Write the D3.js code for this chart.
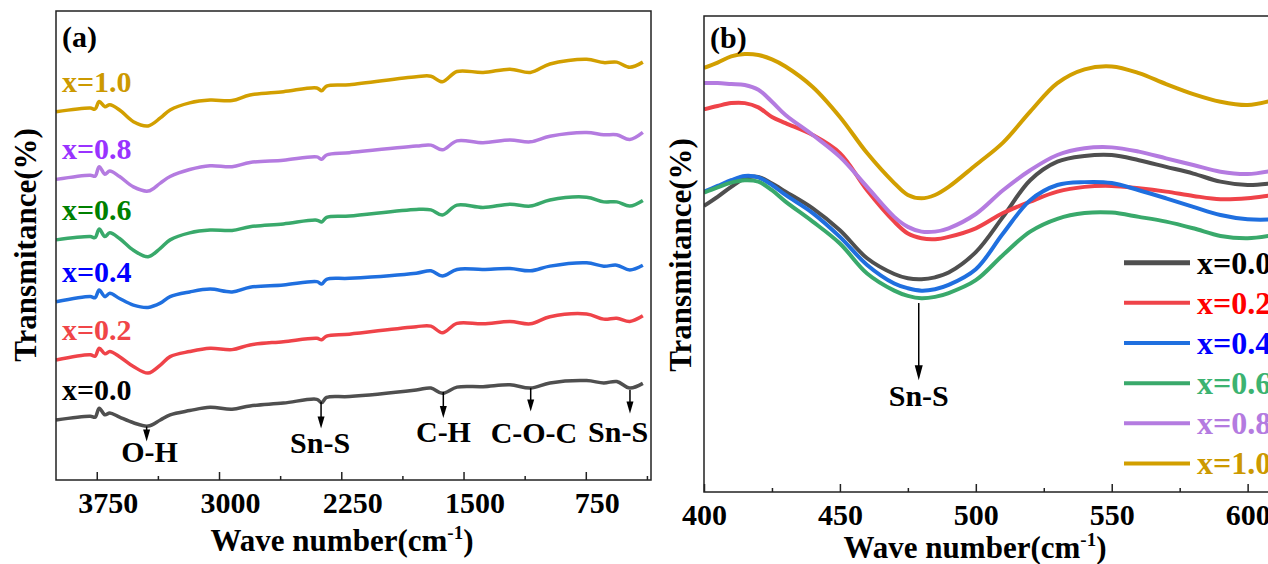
<!DOCTYPE html>
<html lang="en">
<head>
<meta charset="UTF-8" />
<script src="https://cdn.jsdelivr.net/npm/d3@7/dist/d3.min.js"></script>
<style>
	body{ margin:0; background:#fff; }
	svg text{
		font-family: "Liberation Serif", "Times New Roman", serif;
		font-weight: bold;
	}
	.domain{ display:none; }
</style>
</head>
<body>
<svg id="chart" width="1268" height="564"></svg>
<script>
// ---- data ----
var seriesNames = ["x=0.0", "x=0.2", "x=0.4", "x=0.6", "x=0.8", "x=1.0"];
var lineColors = ["#4f4f4f", "#ef4349", "#1f6fdf", "#39a96b", "#b47be0", "#d29f00"];
var labelColorsA = ["#000000", "#f04548", "#0000ff", "#008000", "#9933ff", "#cc9900"];
var labelColorsB = ["#000000", "#ff0000", "#0000ff", "#3cb371", "#b47be0", "#cc9900"];

// panel (a) full FTIR spectra, 4000-400 cm-1 (offset, arbitrary units)
var wavenumberA = [4000, 3790, 3760, 3735, 3700, 3670, 3610, 3525, 3435, 3360, 3300, 3180, 3055, 2920, 2810, 2605,
	2400, 2370, 2340, 2200, 1790, 1700, 1630, 1540, 1380, 1215, 1090, 970, 745, 640, 560, 480, 400];
var spectraA00 = [12.8, 13.6, 13.4, 15.3, 13.9, 14.3, 13.4, 12.2, 11.5, 12.8, 13.9, 14.8, 15.5, 15.1, 15.8, 16.4,
	17.2, 16.5, 17.6, 17.8, 19.2, 19.6, 18.5, 19.8, 19.9, 20.3, 19.6, 20.7, 21.2, 20.7, 21.0, 19.6, 20.6];
var spectraA02 = [25.6, 26.7, 26.4, 28.1, 26.9, 27.4, 26.3, 24.2, 22.8, 24.5, 26.3, 27.4, 28.1, 27.8, 28.8, 29.5,
	30.2, 29.9, 30.7, 31.1, 32.7, 32.8, 31.4, 33.4, 33.3, 33.8, 33.3, 34.8, 35.4, 34.3, 34.5, 33.8, 35.0];
var spectraA04 = [38.0, 39.1, 38.9, 40.5, 39.1, 39.8, 38.7, 37.3, 36.8, 37.7, 39.1, 40.1, 40.7, 40.1, 41.1, 41.6,
	42.3, 41.8, 42.8, 43.0, 44.1, 44.6, 43.5, 44.9, 44.9, 45.1, 44.6, 45.6, 46.3, 45.6, 45.8, 44.8, 45.8];
var spectraA06 = [51.2, 51.9, 51.7, 53.5, 51.9, 52.7, 51.5, 49.0, 47.6, 49.4, 51.2, 52.7, 53.3, 53.2, 54.0, 54.6,
	55.4, 55.0, 56.0, 56.3, 57.7, 57.6, 56.5, 58.6, 58.1, 58.8, 58.4, 59.7, 60.3, 59.3, 59.3, 58.4, 59.6];
var spectraA08 = [64.1, 65.0, 64.8, 66.8, 65.2, 65.9, 64.7, 62.5, 61.6, 63.3, 64.7, 66.2, 67.0, 66.8, 67.7, 68.2,
	68.9, 68.4, 69.3, 69.8, 71.2, 71.4, 70.4, 72.3, 71.9, 72.5, 72.1, 73.3, 74.1, 73.6, 73.6, 72.6, 74.1];
var spectraA10 = [78.5, 79.3, 79.1, 80.7, 79.6, 80.0, 78.9, 76.4, 75.5, 77.2, 78.9, 80.4, 81.0, 80.9, 82.1, 82.8,
	83.6, 83.0, 84.0, 84.3, 86.0, 86.1, 84.9, 87.1, 86.9, 87.6, 86.9, 88.7, 89.7, 89.0, 89.1, 88.0, 89.1];

// panel (b) zoom on 400-620 cm-1
var wavenumberB = [400, 405, 410, 415, 420, 425, 430, 440, 450, 460, 470, 475, 480, 485, 490, 500,
	510, 520, 530, 540, 550, 560, 570, 580, 590, 600, 610, 620];
var spectraB00 = [60.1, 62.0, 64.1, 65.9, 66.2, 64.8, 63.1, 59.6, 55.0, 49.1, 45.8, 44.9, 44.7, 45.1, 46.1, 50.4,
	57.8, 65.5, 69.4, 70.6, 70.8, 69.7, 68.3, 66.9, 65.2, 64.5, 64.9, 65.5];
var spectraB02 = [80.4, 81.1, 81.7, 81.7, 80.8, 78.8, 77.5, 75.0, 71.2, 63.4, 56.8, 54.3, 53.3, 53.1, 53.6, 55.4,
	58.6, 61.0, 63.1, 64.1, 64.3, 63.8, 63.1, 62.2, 61.5, 61.7, 62.4, 63.0];
var spectraB04 = [63.1, 64.3, 65.5, 66.4, 66.1, 64.5, 62.4, 58.6, 53.6, 47.7, 43.8, 42.8, 42.3, 42.6, 43.5, 46.8,
	54.3, 61.3, 64.5, 65.1, 64.9, 63.4, 61.7, 59.9, 58.2, 57.3, 57.3, 58.0];
var spectraB06 = [62.9, 64.0, 65.0, 65.5, 65.2, 63.4, 61.0, 56.8, 52.2, 45.9, 42.3, 41.2, 40.7, 41.0, 41.8, 44.5,
	49.8, 54.7, 57.4, 58.6, 58.7, 57.8, 56.8, 55.4, 53.8, 53.3, 54.0, 55.0];
var spectraB08 = [85.9, 85.9, 85.7, 85.5, 84.5, 82.0, 79.2, 75.0, 70.4, 64.1, 57.8, 55.7, 54.7, 54.7, 55.4, 58.4,
	63.4, 67.6, 70.8, 72.2, 72.4, 71.5, 70.1, 68.7, 67.3, 66.8, 67.6, 68.7];
var spectraB10 = [89.1, 90.2, 91.5, 92.0, 91.8, 90.9, 89.4, 85.1, 78.8, 71.2, 64.9, 62.4, 61.7, 62.4, 64.1, 68.7,
	73.4, 79.9, 85.9, 88.8, 89.4, 88.0, 85.7, 83.6, 82.0, 81.3, 82.4, 84.0];

var ticksA = [3750, 3000, 2250, 1500, 750];
var minorTicksA = [3375, 2625, 1875, 1125, 375];
var ticksB = [400, 450, 500, 550, 600];
var minorTicksB = [425, 475, 525, 575];

// band assignments in (a): arrow wavenumber, arrow top/bottom, label position
var bandNames = ["O-H", "Sn-S", "C-H", "C-O-C", "Sn-S"];
var bandWn = [3444, 2374, 1624, 1088, 479];
var bandArrowFrom = [11.4, 16.7, 18.8, 19.6, 19.2];
var bandArrowTo = [8.2, 11.0, 13.2, 14.6, 14.2];
var bandTextWn = [3426, 2380, 1623, 1068, 552];
var bandTextY = [3.9, 5.7, 8.2, 7.8, 8.2];

// band in (b)
var bandB = {name: "Sn-S", wn: 479, from: 39.7, to: 23.5, textY: 18.1};

var spectraA = [spectraA00, spectraA02, spectraA04, spectraA06, spectraA08, spectraA10];
var spectraB = [spectraB00, spectraB02, spectraB04, spectraB06, spectraB08, spectraB10];

// ---- layout ----
var svg = d3.select("#chart");
var pa = {left: 56, right: 651, top: 11, bottom: 480};
var pb = {left: 704, right: 1302, top: 16, bottom: 492};

var xA = d3.scaleLinear().domain([4000, 350]).range([pa.left, pa.right]);
var yA = d3.scaleLinear().domain([0, 100]).range([pa.bottom, pa.top]);
var xB = d3.scaleLinear().domain([400, 620]).range([pb.left, pb.right]);
var yB = d3.scaleLinear().domain([0, 100]).range([pb.bottom, pb.top]);

svg.append("defs").append("clipPath").attr("id", "clipB")
	.append("rect")
	.attr("x", pb.left).attr("y", pb.top)
	.attr("width", pb.right - pb.left).attr("height", pb.bottom - pb.top);

function drawAxis(g, scale, major, minor, bottom, labelShift, padding) {
	var ax = g.append("g").attr("transform", "translate(0," + bottom + ")")
		.call(d3.axisBottom(scale).tickValues(major).tickSizeInner(-8).tickSizeOuter(0).tickPadding(padding).tickFormat(d3.format("d")));
	ax.selectAll(".tick line").attr("stroke", "#222").attr("stroke-width", 1.5);
	ax.selectAll(".tick text").attr("font-size", 30).attr("fill", "#000").attr("dx", labelShift);
	var mi = g.append("g").attr("transform", "translate(0," + bottom + ")")
		.call(d3.axisBottom(scale).tickValues(minor).tickSizeInner(-4).tickSizeOuter(0).tickFormat(""));
	mi.selectAll(".tick line").attr("stroke", "#222").attr("stroke-width", 1.5);
}

function axisTitle(g, x, y, rotate) {
	var t = g.append("text")
		.attr("text-anchor", "middle")
		.attr("font-size", 31)
		.attr("fill", "#000");
	if (rotate) {
		t.attr("transform", "translate(" + x + "," + y + ") rotate(-90)").text("Transmitance(%)");
	} else {
		t.attr("x", x).attr("y", y);
		t.append("tspan").text("Wave number(cm");
		t.append("tspan").attr("font-size", 19).attr("dy", -12).text("-1");
		t.append("tspan").attr("dy", 12).text(")");
	}
}

function arrow(g, x, y1, y2, headW, headL) {
	g.append("line").attr("x1", x).attr("x2", x).attr("y1", y1).attr("y2", y2 - headL + 1)
		.attr("stroke", "#000").attr("stroke-width", 1.5);
	g.append("path")
		.attr("d", "M" + (x - headW / 2) + "," + (y2 - headL) + "L" + (x + headW / 2) + "," + (y2 - headL) + "L" + x + "," + y2 + "Z")
		.attr("fill", "#000");
}

// ---- panel (a) ----
var ga = svg.append("g");
var lineA = d3.line()
	.curve(d3.curveCatmullRom.alpha(0.5))
	.x(function(d, i) { return xA(wavenumberA[i]); })
	.y(function(d) { return yA(d); });

ga.selectAll("path.spec").data(spectraA).enter().append("path")
	.attr("class", "spec")
	.attr("d", lineA)
	.attr("fill", "none")
	.attr("stroke", function(d, i) { return lineColors[i]; })
	.attr("stroke-width", 3.5)
	.attr("stroke-linejoin", "round");

ga.selectAll("text.lab").data(spectraA).enter().append("text")
	.attr("class", "lab")
	.attr("x", pa.left + 6)
	.attr("y", function(d) { return yA(d[0]) - 20; })
	.attr("font-size", 30)
	.attr("fill", function(d, i) { return labelColorsA[i]; })
	.text(function(d, i) { return seriesNames[i]; });

bandNames.forEach(function(name, i) {
	arrow(ga, xA(bandWn[i]), yA(bandArrowFrom[i]), yA(bandArrowTo[i]), 7, 12);
	ga.append("text")
		.attr("x", xA(bandTextWn[i]))
		.attr("y", yA(bandTextY[i]))
		.attr("text-anchor", "middle")
		.attr("font-size", 30)
		.attr("fill", "#000")
		.text(name);
});

ga.append("rect")
	.attr("x", pa.left).attr("y", pa.top)
	.attr("width", pa.right - pa.left).attr("height", pa.bottom - pa.top)
	.attr("fill", "none").attr("stroke", "#222").attr("stroke-width", 1.5);

drawAxis(ga, xA, ticksA, minorTicksA, pa.bottom, 11, 12);
axisTitle(ga, 342, 551, false);
axisTitle(ga, 36, 245, true);
ga.append("text").attr("x", 62).attr("y", 47).attr("font-size", 30).attr("fill", "#000").text("(a)");

// ---- panel (b) ----
var gb = svg.append("g");
var lineB = d3.line()
	.curve(d3.curveCatmullRom.alpha(0.5))
	.x(function(d, i) { return xB(wavenumberB[i]); })
	.y(function(d) { return yB(d); });

gb.append("g").attr("clip-path", "url(#clipB)")
	.selectAll("path").data(spectraB).enter().append("path")
	.attr("d", lineB)
	.attr("fill", "none")
	.attr("stroke", function(d, i) { return lineColors[i]; })
	.attr("stroke-width", 4);

arrow(gb, xB(bandB.wn), yB(bandB.from), yB(bandB.to), 8, 15);
gb.append("text")
	.attr("x", xB(bandB.wn))
	.attr("y", yB(bandB.textY))
	.attr("text-anchor", "middle")
	.attr("font-size", 30)
	.attr("fill", "#000")
	.text(bandB.name);

// legend
var leg = gb.selectAll("g.leg").data(seriesNames).enter().append("g")
	.attr("class", "leg")
	.attr("transform", function(d, i) { return "translate(1124," + (262.7 + i * 40.15) + ")"; });
leg.append("line")
	.attr("x1", 0).attr("x2", 66)
	.attr("stroke", function(d, i) { return lineColors[i]; })
	.attr("stroke-width", function(d, i) { return i === 0 ? 5 : 4; });
leg.append("text")
	.attr("x", 73).attr("y", 11)
	.attr("font-size", 32)
	.attr("fill", function(d, i) { return labelColorsB[i]; })
	.text(function(d) { return d; });

gb.append("rect")
	.attr("x", pb.left).attr("y", pb.top)
	.attr("width", pb.right - pb.left).attr("height", pb.bottom - pb.top)
	.attr("fill", "none").attr("stroke", "#222").attr("stroke-width", 1.5);

drawAxis(gb, xB, ticksB, minorTicksB, pb.bottom, 0, 12);
axisTitle(gb, 975, 558, false);
axisTitle(gb, 691, 255, true);
gb.append("text").attr("x", 710).attr("y", 48).attr("font-size", 30).attr("fill", "#000").text("(b)");
</script>
</body>
</html>
